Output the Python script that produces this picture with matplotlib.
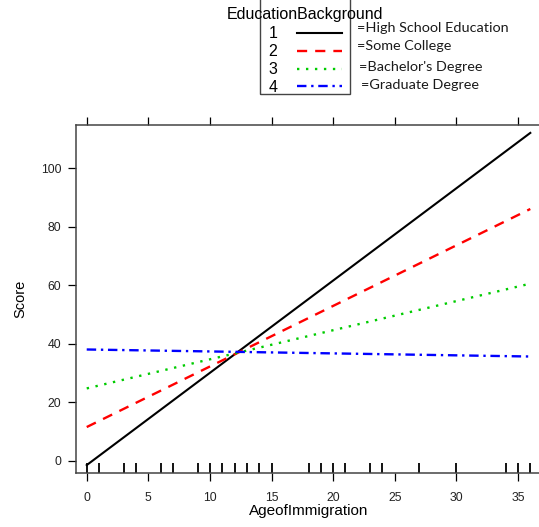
import matplotlib
matplotlib.use('Agg')
import matplotlib.pyplot as plt
from matplotlib.lines import Line2D
from matplotlib.patches import Rectangle

# values
age_range = [0, 36]
levels = ['1', '2', '3', '4']
level_names = ['=High School Education', '=Some College',
               "=Bachelor's Degree", '=Graduate Degree']
score_high_school = [-1.5, 112.0]
score_some_college = [11.5, 86.0]
score_bachelor = [24.7, 60.5]
score_graduate = [38.0, 35.6]
rug_ages = [0, 1, 3, 4, 6, 7, 9, 10, 11, 12, 13, 14, 15, 18, 19, 20, 21,
            23, 24, 27, 30, 34, 35, 36]
x_ticks = [0, 5, 10, 15, 20, 25, 30, 35]
y_ticks = [0, 20, 40, 60, 80, 100]

W, H = 539, 527
plt.rcParams['font.family'] = ['Liberation Sans', 'DejaVu Sans']
fig = plt.figure(figsize=(W / 100, H / 100), dpi=100)

def px(x, y):
    # pixel position -> figure fraction
    return x / W, 1 - y / H

ax = fig.add_axes([76 / W, 1 - 473 / H, (542 - 76) / W, (473 - 125) / H])

styles = [
    dict(color='black', lw=1.5, ls='-'),
    dict(color='red', lw=1.7, dashes=(4.3, 3.4)),
    dict(color='#00cc00', lw=1.7, dashes=(1.0, 2.8)),
    dict(color='blue', lw=1.7, dashes=(4.0, 2.0, 1.0, 2.0)),
]
series = [score_high_school, score_some_college, score_bachelor, score_graduate]
for s, st in zip(series, styles):
    ax.plot(age_range, s, **st)

ax.vlines(rug_ages, 0, 10 / 348, transform=ax.get_xaxis_transform(),
          color='black', lw=1.3)

ax.set_xlim(-0.87, 36.95)
ax.set_ylim(-4.2, 114.7)
ax.set_xticks(x_ticks)
ax.set_yticks(y_ticks)
ax.tick_params(axis='both', direction='out', length=6, width=0.9,
               labelsize=8.8, labelcolor='#222222', pad=4.5)
ax.tick_params(axis='x', top=True, pad=8)
for sp in ax.spines.values():
    sp.set_color('#444444')
    sp.set_linewidth(1.1)
ax.spines['right'].set_visible(False)

ax.set_xlabel('AgeofImmigration', fontsize=11, labelpad=0)
ax.set_ylabel('Score', fontsize=10.5, labelpad=10)

# legend key above the panel
fig.patches.append(Rectangle(px(260, 94), 90 / W, 96 / H, transform=fig.transFigure,
                             fill=False, edgecolor='#444444', lw=1))
fig.text(*px(305, 15), 'EducationBackground', fontsize=11.5, ha='center', va='center')
row_y = [33, 51, 69, 86]
for lab, name, st, yy in zip(levels, level_names, styles, row_y):
    fig.text(*px(273, yy + 1), lab, fontsize=11.5, ha='center', va='center')
    x0, y0 = px(297, yy)
    x1, _ = px(342, yy)
    fig.lines.append(Line2D([x0, x1], [y0, y0], transform=fig.transFigure, **st))
text_pos = [(357, 28), (357, 46), (359, 67), (361, 85)]
for name, (tx, ty) in zip(level_names, text_pos):
    fig.text(*px(tx, ty), name, fontsize=10.4, ha='left', va='center',
             family=['Lato', 'DejaVu Sans'], color='#1a1a1a')

fig.savefig('out.png', dpi=100)
